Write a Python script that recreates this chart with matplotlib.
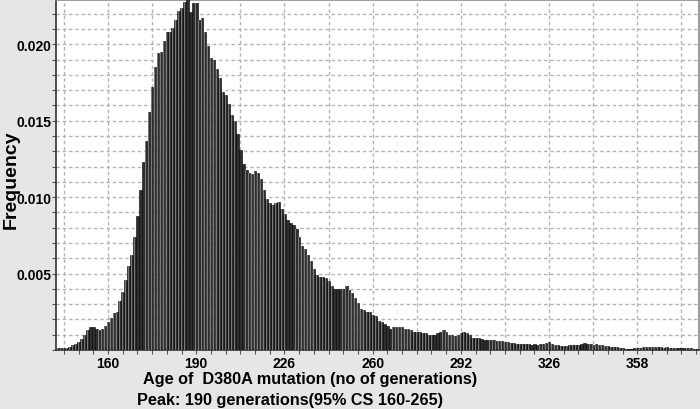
import matplotlib
matplotlib.use("Agg")
import matplotlib.pyplot as plt
import numpy as np
from matplotlib.ticker import MultipleLocator, FixedLocator

plt.rcParams["font.family"] = ["Liberation Sans", "DejaVu Sans"]

# frequency of each age bin (one bar per bin)
freq = [
    0.00010, 0.00010, 0.00012, 0.00015, 0.00020, 0.00030, 0.00040, 0.00050, 0.00070, 0.00100,
    0.00130, 0.00150, 0.00150, 0.00140, 0.00130, 0.00140, 0.00160, 0.00180, 0.00210, 0.00240,
    0.00250, 0.00320, 0.00380, 0.00460, 0.00550, 0.00620, 0.00740, 0.00880, 0.01050, 0.01230,
    0.01370, 0.01560, 0.01720, 0.01850, 0.01940, 0.01950, 0.02020, 0.02080, 0.02080, 0.02110,
    0.02160, 0.02220, 0.02240, 0.02280, 0.02320, 0.02210, 0.02270, 0.02270, 0.02160, 0.02170,
    0.02080, 0.01990, 0.01910, 0.01900, 0.01840, 0.01780, 0.01690, 0.01670, 0.01610, 0.01540,
    0.01500, 0.01410, 0.01310, 0.01220, 0.01180, 0.01160, 0.01150, 0.01170, 0.01160, 0.01120,
    0.01050, 0.00990, 0.00960, 0.00950, 0.00960, 0.00970, 0.00920, 0.00890, 0.00850, 0.00830,
    0.00820, 0.00790, 0.00740, 0.00680, 0.00660, 0.00620, 0.00580, 0.00530, 0.00490, 0.00480,
    0.00480, 0.00470, 0.00450, 0.00420, 0.00400, 0.00400, 0.00400, 0.00400, 0.00420, 0.00390,
    0.00370, 0.00340, 0.00310, 0.00270, 0.00260, 0.00250, 0.00250, 0.00230, 0.00220, 0.00190,
    0.00180, 0.00170, 0.00160, 0.00140, 0.00150, 0.00150, 0.00150, 0.00150, 0.00140, 0.00140,
    0.00130, 0.00120, 0.00120, 0.00120, 0.00110, 0.00110, 0.00100, 0.00100, 0.00100, 0.00110,
    0.00120, 0.00130, 0.00120, 0.00100, 0.00100, 0.00090, 0.00100, 0.00110, 0.00120, 0.00110,
    0.00095, 0.00080, 0.00078, 0.00078, 0.00070, 0.00063, 0.00063, 0.00065, 0.00063, 0.00060,
    0.00062, 0.00060, 0.00050, 0.00050, 0.00048, 0.00045, 0.00040, 0.00042, 0.00040, 0.00038,
    0.00040, 0.00035, 0.00038, 0.00035, 0.00040, 0.00042, 0.00045, 0.00050, 0.00040, 0.00033,
    0.00030, 0.00025, 0.00025, 0.00028, 0.00030, 0.00030, 0.00032, 0.00035, 0.00040, 0.00045,
    0.00040, 0.00038, 0.00035, 0.00038, 0.00030, 0.00030, 0.00028, 0.00025, 0.00022, 0.00020,
    0.00018, 0.00012, 0.00010, 0.00008, 0.00008, 0.00008, 0.00010, 0.00010, 0.00015, 0.00020,
    0.00022, 0.00020, 0.00020, 0.00018, 0.00018, 0.00018, 0.00016, 0.00018, 0.00016, 0.00015,
    0.00016, 0.00015, 0.00014, 0.00012, 0.00010, 0.00010, 0.00008, 0.00006,
]

# generation labels shown under every 30th bar, starting at bar 17
tick_labels = ["160", "190", "226", "260", "292", "326", "358"]
first_label_bar = 17
label_every = 30

xlabel_line1 = "Age of  D380A mutation (no of generations)"
xlabel_line2 = "Peak: 190 generations(95% CS 160-265)"

bg = "#e6e6e6"
fig = plt.figure(figsize=(7.0, 4.1), dpi=100, facecolor=bg)
ax = fig.add_axes([56 / 700, 1 - 351 / 410, 643 / 700, 350 / 410])
ax.set_facecolor("white")

x = np.arange(len(freq))
ax.bar(x, freq, width=0.9, color="#2e2e2e", edgecolor="#000000",
       linewidth=0.4, zorder=3)
# lighter stripe on each bar
ax.bar(x - 0.12, freq, width=0.28, color="#7a7a7a", linewidth=0, zorder=4)

ax.set_xlim(-0.7, 218.0)
ax.set_ylim(0, 0.0229)

# y axis: labels every 0.005, ticks/grid every 0.001
ax.yaxis.set_major_locator(FixedLocator([0.005, 0.010, 0.015, 0.020]))
ax.yaxis.set_minor_locator(MultipleLocator(0.001))
ax.set_yticklabels(["0.005", "0.010", "0.015", "0.020"])

# x axis: grid every 15 bars, labels every 30, small ticks every 5
grid_pos = list(range(first_label_bar - 15, len(freq), 15))
ax.xaxis.set_major_locator(FixedLocator(grid_pos))
lab_map = {first_label_bar + label_every * k: t for k, t in enumerate(tick_labels)}
ax.set_xticklabels([lab_map.get(p, "") for p in grid_pos])
ax.xaxis.set_minor_locator(FixedLocator(list(range(first_label_bar - 15, len(freq), 5))))

ax.grid(True, which="both", axis="y", color="#b4b4b4", linestyle=(0, (2.5, 2)),
        linewidth=1.0, zorder=0)
ax.grid(True, which="major", axis="x", color="#b4b4b4", linestyle=(0, (2.5, 2)),
        linewidth=1.0, zorder=0)

ax.tick_params(axis="both", which="both", direction="out", length=3,
               width=0.8, color="#555555")
ax.tick_params(axis="y", which="major", labelsize=10, pad=0.5)
ax.tick_params(axis="x", which="major", labelsize=10, pad=1.5)
for lbl in ax.get_xticklabels() + ax.get_yticklabels():
    lbl.set_fontweight("bold")

ax.spines["left"].set_color("#333333")
ax.spines["bottom"].set_color("#333333")
ax.spines["top"].set_color("#8a8a8a")
ax.spines["right"].set_color("#8a8a8a")
for s in ax.spines.values():
    s.set_linewidth(1.2)

fig.text(11 / 700, 1 - 180 / 410, "Frequency", fontsize=14, fontweight="bold",
         rotation=90, ha="center", va="center")

fig.text(143 / 700, 1 - 380 / 410, xlabel_line1, fontsize=11.7,
         fontweight="bold", ha="left", va="center")
fig.text(137 / 700, 1 - 401 / 410, xlabel_line2, fontsize=11.7,
         fontweight="bold", ha="left", va="center")

fig.savefig("out.png", dpi=100, facecolor=bg)
